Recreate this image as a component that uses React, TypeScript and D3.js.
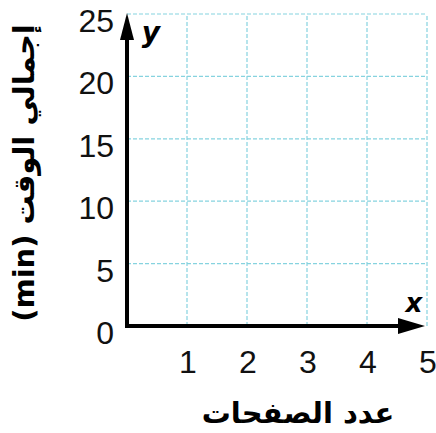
import { useEffect, useRef } from 'react';
import * as d3 from 'd3';

const xTicks = [1, 2, 3, 4, 5];
const yTicks = [0, 5, 10, 15, 20, 25];
const xDomain = [0, 5];
const yDomain = [0, 25];
const xTitle = 'عدد الصفحات';
const yTitle = 'إجمالي الوقت (min)';

const W = 436;
const H = 433;

export default function App() {
  const svgRef = useRef<SVGSVGElement>(null);

  useEffect(() => {
    if (!svgRef.current) return;
    const svg = d3.select(svgRef.current);
    svg.selectAll('*').remove();

    const x = d3.scaleLinear().domain(xDomain).range([127, 427]);
    const y = d3.scaleLinear().domain(yDomain).range([326, 14]);

    const gridColor = '#86d3df';

    // grid
    const grid = svg.append('g');
    grid.selectAll('.vg')
      .data(xTicks)
      .enter()
      .append('line')
      .attr('x1', d => x(d))
      .attr('x2', d => x(d))
      .attr('y1', y(0))
      .attr('y2', y(25))
      .attr('stroke', gridColor)
      .attr('stroke-width', 1.2)
      .attr('stroke-dasharray', '4,2');
    grid.selectAll('.hg')
      .data(yTicks.filter(d => d > 0))
      .enter()
      .append('line')
      .attr('x1', x(0))
      .attr('x2', x(5))
      .attr('y1', d => y(d))
      .attr('y2', d => y(d))
      .attr('stroke', gridColor)
      .attr('stroke-width', 1.2)
      .attr('stroke-dasharray', '4,2');

    // axes
    svg.append('line')
      .attr('x1', x(0)).attr('x2', x(5) - 20)
      .attr('y1', y(0)).attr('y2', y(0))
      .attr('stroke', '#000').attr('stroke-width', 4);
    svg.append('line')
      .attr('x1', x(0)).attr('x2', x(0))
      .attr('y1', y(0) + 2).attr('y2', y(25) + 20)
      .attr('stroke', '#000').attr('stroke-width', 4);

    // arrowheads
    const tipX = x(5) - 2;
    svg.append('path')
      .attr('d', `M${tipX},${y(0)} L${tipX - 27},${y(0) - 8} L${tipX - 27},${y(0) + 8} Z`)
      .attr('fill', '#000');
    const tipY = y(25) - 1;
    svg.append('path')
      .attr('d', `M${x(0)},${tipY} L${x(0) - 7},${tipY + 27} L${x(0) + 7},${tipY + 27} Z`)
      .attr('fill', '#000');

    // tick labels
    svg.selectAll('.yl')
      .data(yTicks)
      .enter()
      .append('text')
      .attr('x', 114)
      .attr('y', d => y(d) + 18)
      .attr('text-anchor', 'end')
      .attr('font-family', 'Liberation Sans, Arial, sans-serif')
      .attr('font-size', 32)
      .attr('fill', '#111')
      .text(d => d);

    svg.selectAll('.xl')
      .data(xTicks)
      .enter()
      .append('text')
      .attr('x', d => x(d) + 1)
      .attr('y', 373)
      .attr('text-anchor', 'middle')
      .attr('font-family', 'Liberation Sans, Arial, sans-serif')
      .attr('font-size', 32)
      .attr('fill', '#111')
      .text(d => d);

    // axis letters
    svg.append('text')
      .attr('x', 414).attr('y', 312)
      .attr('text-anchor', 'middle')
      .attr('font-family', 'DejaVu Sans, sans-serif')
      .attr('font-weight', 'bold').attr('font-style', 'italic')
      .attr('font-size', 26)
      .text('x');
    svg.append('text')
      .attr('x', 151).attr('y', 42)
      .attr('text-anchor', 'middle')
      .attr('font-family', 'DejaVu Sans, sans-serif')
      .attr('font-weight', 'bold').attr('font-style', 'italic')
      .attr('font-size', 28)
      .text('y');

    // titles
    svg.append('text')
      .attr('x', 298).attr('y', 423)
      .attr('text-anchor', 'middle')
      .attr('font-family', 'DejaVu Sans, sans-serif')
      .attr('font-weight', 'bold')
      .attr('font-size', 29)
      .attr('direction', 'rtl')
      .text(xTitle);

    svg.append('text')
      .attr('transform', `translate(34,173) rotate(-90)`)
      .attr('text-anchor', 'middle')
      .attr('font-family', 'DejaVu Sans, sans-serif')
      .attr('font-weight', 'bold')
      .attr('font-size', 29)
      .attr('direction', 'rtl')
      .text(yTitle);
  }, []);

  return (
    <svg
      ref={svgRef}
      width={W}
      height={H}
      style={{ position: 'absolute', left: 0, top: 0, background: '#fff' }}
    />
  );
}
